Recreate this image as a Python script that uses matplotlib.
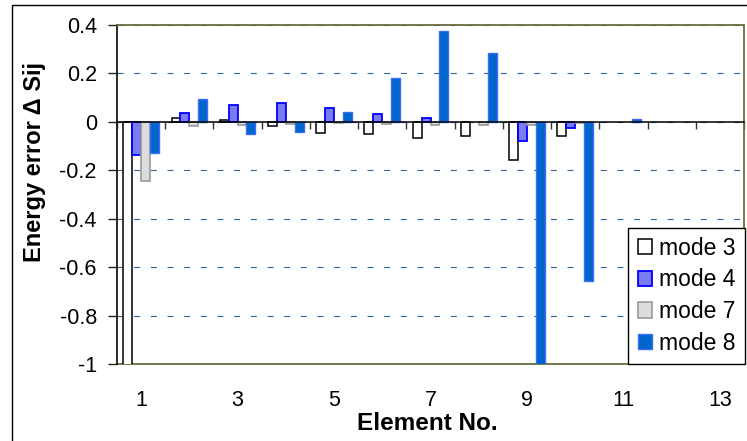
import matplotlib
matplotlib.use("Agg")
import matplotlib.pyplot as plt
import numpy as np
from matplotlib.patches import Rectangle

plt.rcParams["font.family"] = ["Liberation Sans", "DejaVu Sans"]

# values
elements = np.arange(1, 14)
mode3 = [-1.05, 0.015, 0.008, -0.018, -0.044, -0.05, -0.065, -0.057, -0.159, -0.057, 0.0, 0.0, 0.0]
mode4 = [-0.135, 0.038, 0.07, 0.079, 0.057, 0.032, 0.017, 0.0, -0.081, -0.026, 0.0, 0.0, 0.0]
mode7 = [-0.244, -0.018, -0.015, -0.008, -0.003, -0.008, -0.015, -0.015, -0.015, -0.005, 0.0, 0.0, 0.0]
mode8 = [-0.128, 0.094, -0.051, -0.041, 0.04, 0.181, 0.376, 0.283, -1.05, -0.658, 0.01, 0.0, 0.0]
series_names = ["mode 3", "mode 4", "mode 7", "mode 8"]

y_ticks = [-1.0, -0.8, -0.6, -0.4, -0.2, 0.0, 0.2, 0.4]
y_tick_labels = ["-1", "-0.8", "-0.6", "-0.4", "-0.2", "0", "0.2", "0.4"]
x_label_ticks = [1, 3, 5, 7, 9, 11, 13]

W, H = 747, 441
border = "#6b6b3c"

fig = plt.figure(figsize=(W / 100, H / 100), dpi=100)
ax = fig.add_axes([117 / W, 1 - 364 / H, 627 / W, 339 / H])

styles = [
    dict(facecolor="white", edgecolor="black", linewidth=1.1),
    dict(facecolor="#7b7bf2", edgecolor="#0000ff", linewidth=1.3),
    dict(facecolor="#dcdcdc", edgecolor="#999999", linewidth=1.2),
    dict(facecolor="#0066cc", edgecolor="#3a6cf5", linewidth=1.0),
]
width = 0.185
for i, (vals, name, st) in enumerate(zip([mode3, mode4, mode7, mode8], series_names, styles)):
    vals = np.asarray(vals, dtype=float)
    # Excel draws nothing for an exact zero, so leave those bars out
    heights = np.where(vals == 0, np.nan, vals)
    ax.bar(elements + (i - 1.5) * width, heights, width, label=name, zorder=2, **st)

ax.set_xlim(0.5, 13.5)
ax.set_ylim(-1.0, 0.4)
ax.set_yticks(y_ticks)
ax.set_yticklabels(y_tick_labels)
ax.tick_params(axis="y", direction="out", length=6.5, width=1, color="#222222",
               labelsize=15.5, pad=8)

ax.yaxis.grid(True, color="#336699", linewidth=0.8, linestyle=(0, (5.4, 9.6)))
ax.set_axisbelow(True)

# x axis crosses at zero, ticks between categories
ax.spines["bottom"].set_position(("data", 0))
ax.spines["bottom"].set_color("black")
ax.spines["bottom"].set_linewidth(1.1)
ax.spines["bottom"].set_zorder(3)
ax.set_xticks(np.arange(0.5, 14, 1))
ax.tick_params(axis="x", direction="out", length=5, width=1, color="#333333", labelbottom=False)

ax.spines["left"].set_color("#1a1a0a")
ax.spines["left"].set_linewidth(1.3)
for s in ("top", "right"):
    ax.spines[s].set_color(border)
    ax.spines[s].set_linewidth(1.3)

sec = ax.secondary_xaxis("bottom")
sec.set_xticks(x_label_ticks)
sec.set_xticklabels([str(v) for v in x_label_ticks])
sec.tick_params(length=0, labelsize=15.5, pad=18.7)
sec.spines["bottom"].set_color(border)
sec.spines["bottom"].set_linewidth(1.3)

leg = ax.legend(loc="lower right", bbox_to_anchor=(1.0016, 0), borderaxespad=0,
                fancybox=False, edgecolor="black", framealpha=1, fontsize=16.5,
                handlelength=0.65, handleheight=0.65, handletextpad=0.3,
                labelspacing=0.38, borderpad=0.4)
leg.get_frame().set_linewidth(1)
leg.set_zorder(5)

fig.text(427 / W, 1 - 423 / H, "Element No.", ha="center", va="center",
         fontsize=17.5, fontweight="bold")
fig.text(35 / W, 1 - 162 / H, "Energy error \u0394 Sij", ha="center", va="center",
         rotation=90, fontsize=17, fontweight="bold")

fig.patches.append(Rectangle((12 / W, -0.05), 1.0, 1 - 5 / H + 0.05,
                             transform=fig.transFigure, fill=False,
                             edgecolor="black", linewidth=1))

fig.savefig("out.png", dpi=100)
